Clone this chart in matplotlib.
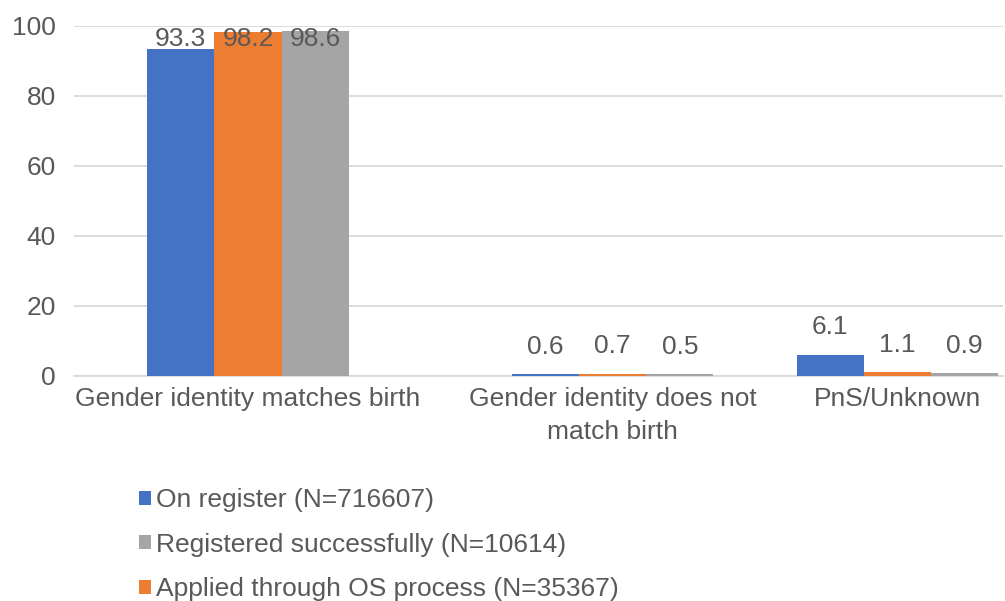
import numpy as np
import matplotlib
matplotlib.use('Agg')
import matplotlib.pyplot as plt
from matplotlib.patches import Patch

plt.rcParams['font.family'] = ['Liberation Sans', 'DejaVu Sans']

categories = ['Gender identity matches birth', 'Gender identity does not\nmatch birth', 'PnS/Unknown']
on_register = [93.3, 0.6, 6.1]
applied_os = [98.2, 0.7, 1.1]
registered_ok = [98.6, 0.5, 0.9]

series_names = ['On register (N=716607)', 'Applied through OS process (N=35367)',
                'Registered successfully (N=10614)']
series_values = [on_register, applied_os, registered_ok]
colors = ['#4472C4', '#ED7D31', '#A5A5A5']

TEXT = '#595959'
GRID = '#D9D9D9'
FS = 19

fig = plt.figure(figsize=(10.05, 6.01), dpi=100)
ax = fig.add_axes([0.0736, 0.3744, 0.9244, 0.5829])

group_x = np.array([0.0, 1.0, 1.78])
width = 0.184

for i, (name, vals, c) in enumerate(zip(series_names, series_values, colors)):
  xs = group_x + (i - 1) * width
  bars = ax.bar(xs, vals, width, color=c, label=name, zorder=3)
  for b, v in zip(bars, vals):
    cx = b.get_x() + b.get_width() / 2
    if v > 90:
      # no room above the tall bars: keep the label inside the plot area
      ax.annotate(f'{v:.1f}', (cx, 100), xytext=(0, -1), textcoords='offset points',
                  ha='center', va='top', fontsize=FS, color=TEXT, zorder=4)
    else:
      ax.annotate(f'{v:.1f}', (cx, v), xytext=(0, 11), textcoords='offset points',
                  ha='center', va='bottom', fontsize=FS, color=TEXT, zorder=4)

ax.set_ylim(0, 100)
ax.set_yticks(range(0, 101, 20))
ax.set_xlim(-0.477, 2.07)
ax.set_xticks(group_x)
ax.set_xticklabels(categories, linespacing=1.45)
ax.yaxis.grid(True, color=GRID, linewidth=1.3, zorder=0)
ax.tick_params(axis='both', length=0, labelsize=FS, labelcolor=TEXT)
ax.tick_params(axis='y', pad=13)
ax.tick_params(axis='x', pad=8)
for s in ['top', 'right', 'left']:
  ax.spines[s].set_visible(False)
ax.spines['bottom'].set_color(GRID)
ax.spines['bottom'].set_linewidth(1.3)

# legend order: blue, gray, orange
order = [0, 2, 1]
handles = [Patch(facecolor=colors[k], edgecolor='none') for k in order]
labels = [series_names[k] for k in order]
fig.legend(handles, labels, loc='upper left', bbox_to_anchor=(0.138, 0.188),
           frameon=False, fontsize=FS, labelcolor=TEXT,
           handlelength=0.45, handleheight=0.45, handletextpad=0.2,
           labelspacing=0.78, borderaxespad=0, borderpad=0)

fig.savefig('out.png', dpi=100)
